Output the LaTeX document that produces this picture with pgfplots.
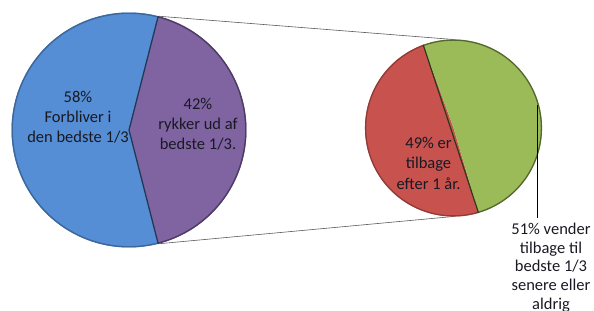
\documentclass[border=0pt]{standalone}
\usepackage{pgfplots}
\pgfplotsset{compat=1.18}
\usepackage{fontspec}
\setmainfont{Carlito}
\definecolor{pblue}{RGB}{85,142,213}
\definecolor{ppurple}{RGB}{128,100,162}
\definecolor{pred}{RGB}{200,82,78}
\definecolor{pgreen}{RGB}{155,187,89}
\definecolor{txt}{RGB}{25,25,35}
\begin{document}
\begin{tikzpicture}
% data (percent)
\pgfmathsetmacro{\vStay}{58}
\pgfmathsetmacro{\vOut}{42}
\pgfmathsetmacro{\vBack}{49}
\pgfmathsetmacro{\vLater}{51}
% geometry of the two pies (axis units = px)
\pgfmathsetmacro{\bx}{129}\pgfmathsetmacro{\by}{181}\pgfmathsetmacro{\br}{117.5}
\pgfmathsetmacro{\sx}{453.5}\pgfmathsetmacro{\sy}{183}\pgfmathsetmacro{\sr}{88.5}
\pgfmathsetmacro{\bA}{\vOut*1.8}
\pgfmathsetmacro{\bB}{360-\vOut*1.8}
\pgfmathsetmacro{\sA}{110}
\pgfmathsetmacro{\sB}{110+\vBack*3.6}
\pgfmathsetmacro{\sC}{\sB+\vLater*3.6}
\pgfmathsetmacro{\pTx}{\bx+\br*cos(\bA)}\pgfmathsetmacro{\pTy}{\by+\br*sin(\bA)}
\pgfmathsetmacro{\pBx}{\bx+\br*cos(\bB)}\pgfmathsetmacro{\pBy}{\by+\br*sin(\bB)}
\pgfmathsetmacro{\qTx}{\sx+\sr*cos(\sA)}\pgfmathsetmacro{\qTy}{\sy+\sr*sin(\sA)}
\pgfmathsetmacro{\qBx}{\sx+\sr*cos(\sB)}\pgfmathsetmacro{\qBy}{\sy+\sr*sin(\sB)}
\pgfmathsetmacro{\sTop}{\sy+\sr}\pgfmathsetmacro{\sBot}{\sy-\sr}
\begin{axis}[width=594bp,height=311bp,scale only axis,
  xmin=0,xmax=594,ymin=0,ymax=311,hide axis,clip=false]
% connector lines
\addplot[draw=black!65,line width=0.6pt] coordinates {(\pTx,\pTy) (\sx,\sTop)};
\addplot[draw=black!65,line width=0.6pt] coordinates {(\pBx,\pBy) (\sx,\sBot)};
% big pie
\addplot[fill=pblue,draw=none,domain=\bA:\bB,samples=150,variable=\t]
  ({\bx+\br*cos(\t)},{\by+\br*sin(\t)}) -- (axis cs:\bx,\by) -- cycle;
\addplot[fill=ppurple,draw=none,domain=-\bA:\bA,samples=150,variable=\t]
  ({\bx+\br*cos(\t)},{\by+\br*sin(\t)}) -- (axis cs:\bx,\by) -- cycle;
\addplot[draw=pblue!72!black,line width=1.4pt,domain=\bA:\bB,samples=150,variable=\t]
  ({\bx+(\br-0.7)*cos(\t)},{\by+(\br-0.7)*sin(\t)});
\addplot[draw=ppurple!60!black,line width=1.4pt,domain=-\bA:\bA,samples=150,variable=\t]
  ({\bx+(\br-0.7)*cos(\t)},{\by+(\br-0.7)*sin(\t)});
\addplot[draw=black!60!pblue,line width=1.3pt] coordinates {(\pTx,\pTy) (\bx,\by) (\pBx,\pBy)};
% small pie
\addplot[fill=pred,draw=none,domain=\sA:\sB,samples=150,variable=\t]
  ({\sx+\sr*cos(\t)},{\sy+\sr*sin(\t)}) -- (axis cs:\sx,\sy) -- cycle;
\addplot[fill=pgreen,draw=none,domain=\sB:\sC,samples=150,variable=\t]
  ({\sx+\sr*cos(\t)},{\sy+\sr*sin(\t)}) -- (axis cs:\sx,\sy) -- cycle;
\addplot[draw=pred!72!black,line width=1.3pt,domain=\sA:\sB,samples=150,variable=\t]
  ({\sx+(\sr-0.6)*cos(\t)},{\sy+(\sr-0.6)*sin(\t)});
\addplot[draw=pgreen!55!black,line width=1.3pt,domain=\sB:\sC,samples=150,variable=\t]
  ({\sx+(\sr-0.6)*cos(\t)},{\sy+(\sr-0.6)*sin(\t)});
\addplot[draw=black!70!pgreen,line width=1.2pt] coordinates {(\qTx,\qTy) (\qBx,\qBy)};
% leader line
\addplot[draw=black,line width=0.6pt] coordinates {(537,206) (537,93)};
% labels
\node[font=\fontsize{16.5bp}{20bp}\selectfont,text=txt,align=center,inner sep=0pt]
  at (axis cs:78,194) {58\%\\Forbliver i\\den bedste 1/3};
\node[font=\fontsize{16.5bp}{20bp}\selectfont,text=txt,align=center,inner sep=0pt]
  at (axis cs:198,187) {42\%\\rykker ud af\\bedste 1/3.};
\node[font=\fontsize{16.5bp}{20.5bp}\selectfont,text=txt,align=center,inner sep=0pt]
  at (axis cs:428.5,148) {49\% er\\tilbage\\efter 1 år.};
\node[font=\fontsize{16.5bp}{18.6bp}\selectfont,text=txt,align=center,inner sep=0pt,anchor=north]
  at (axis cs:551,88) {51\% vender\\tilbage til\\bedste 1/3\\senere eller\\aldrig};
\end{axis}
\pgfresetboundingbox
\path[use as bounding box] (current axis.south west) rectangle (current axis.north east);
\end{tikzpicture}
\end{document}
